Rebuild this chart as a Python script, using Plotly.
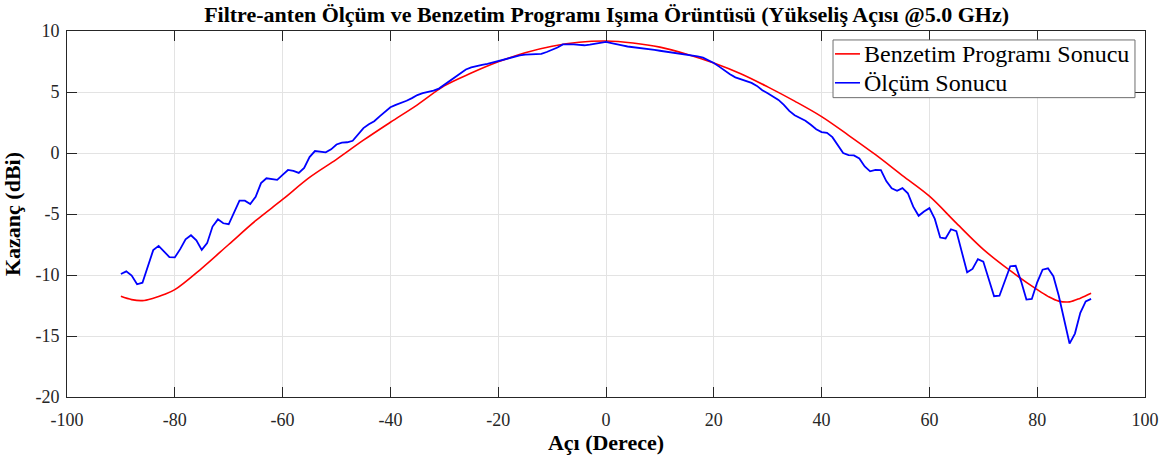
import plotly.graph_objects as go

# Simulated pattern (Benzetim Programı Sonucu)
sim_angle = [-90, -88, -86, -84, -82, -80, -75, -70, -65, -60, -55, -50, -45, -40,
             -35, -30, -25, -20, -15, -10, -5, 0, 5, 10, 15, 20, 25, 30, 35, 40,
             45, 50, 55, 60, 65, 70, 75, 80, 82, 84, 86, 88, 90]
sim_gain = [-11.75, -12.02, -12.1, -11.9, -11.6, -11.2, -9.45, -7.5, -5.55, -3.81,
            -2.0, -0.52, 1.05, 2.52, 3.95, 5.5, 6.55, 7.47, 8.22, 8.75, 9.08, 9.18,
            9.02, 8.68, 8.1, 7.38, 6.5, 5.42, 4.25, 2.98, 1.45, -0.14, -1.85, -3.54,
            -5.75, -7.9, -9.65, -11.2, -11.75, -12.14, -12.2, -11.9, -11.5]

# Measured pattern (Ölçüm Sonucu), 1 degree steps
meas_angle = list(range(-90, 91))
meas_gain = [
    -9.92, -9.7, -10.05, -10.76, -10.63, -9.24, -7.96, -7.61, -8.04, -8.53,   # -90..-81
    -8.56, -7.88, -7.07, -6.74, -7.15, -7.94, -7.39, -6.03, -5.44, -5.76,     # -80..-71
    -5.84, -4.84, -3.91, -3.91, -4.19, -3.59, -2.47, -2.07, -2.15, -2.2,      # -70..-61
    -1.79, -1.39, -1.47, -1.63, -1.22, -0.33, 0.16, 0.13, 0.05, 0.3,          # -60..-51
    0.7, 0.85, 0.88, 1.0, 1.55, 2.04, 2.35, 2.6, 3.0, 3.4,                    # -50..-41
    3.75, 3.95, 4.1, 4.28, 4.5, 4.75, 4.9, 5.0, 5.12, 5.28,                   # -40..-31
    5.6, 5.9, 6.23, 6.55, 6.85, 7.02, 7.14, 7.22, 7.3, 7.42,                  # -30..-21
    7.55, 7.67, 7.78, 7.9, 8.0, 8.07, 8.09, 8.09, 8.12, 8.28,                 # -20..-11
    8.45, 8.65, 8.9, 8.92, 8.91, 8.87, 8.83, 8.88, 8.97, 9.05,                # -10..-1
    9.1,                                                                      # 0
    9.0, 8.94, 8.82, 8.73, 8.68, 8.65, 8.6, 8.52, 8.45, 8.38,                 # 1..10
    8.32, 8.25, 8.19, 8.12, 8.06, 8.01, 7.92, 7.82, 7.62, 7.38,               # 11..20
    7.08, 6.75, 6.45, 6.2, 6.05, 5.92, 5.75, 5.5, 5.15, 4.9,                  # 21..30
    4.6, 4.35, 3.95, 3.45, 3.1, 2.9, 2.65, 2.31, 1.95, 1.72,                  # 31..40
    1.65, 1.3, 0.6, 0.0, -0.18, -0.2, -0.45, -1.1, -1.5, -1.38,               # 41..50
    -1.4, -2.3, -2.9, -3.1, -2.88, -3.3, -4.4, -5.15, -4.8, -4.52,            # 51..60
    -5.4, -6.93, -7.0, -6.25, -6.4, -8.1, -9.78, -9.5, -8.7, -8.9,            # 61..70
    -10.35, -11.74, -11.7, -10.5, -9.28, -9.24, -10.5, -12.01, -11.96, -10.6, # 71..80
    -9.57, -9.45, -10.1, -11.7, -13.75, -15.62, -14.8, -13.1, -12.17, -11.96, # 81..90
]

x_ticks = [-100, -80, -60, -40, -20, 0, 20, 40, 60, 80, 100]
y_ticks = [-20, -15, -10, -5, 0, 5, 10]

series_names = ["Benzetim Programı Sonucu", "Ölçüm Sonucu"]
series_colors = ["#FF0000", "#0000FF"]

serif = "Liberation Serif, Times New Roman, serif"

fig = go.Figure()
fig.add_trace(go.Scatter(
    x=sim_angle, y=sim_gain, mode="lines", line_shape="spline",
    name=series_names[0], showlegend=False,
    line=dict(color=series_colors[0], width=1.6),
))
fig.add_trace(go.Scatter(
    x=meas_angle, y=meas_gain, mode="lines",
    name=series_names[1], showlegend=False,
    line=dict(color=series_colors[1], width=1.8),
))

axis_common = dict(
    showline=True, linecolor="#262626", linewidth=1, mirror="allticks",
    ticks="inside", ticklen=10, tickcolor="#262626", tickwidth=1,
    showgrid=True, gridcolor="#E3E3E3", gridwidth=1, zeroline=False,
    tickfont=dict(family=serif, size=18, color="#262626"),
)

# Boxed legend in the upper right corner of the plot area (paper coordinates)
box_x0, box_x1 = 0.7106, 0.9907
box_y0, box_y1 = 0.8179, 0.9755
row_y = [0.9375, 0.8585]
line_x0, line_x1 = 0.7124, 0.7356
text_x = 0.7375

shapes = [dict(type="rect", xref="paper", yref="paper",
               x0=box_x0, x1=box_x1, y0=box_y0, y1=box_y1,
               line=dict(color="#6E6E6E", width=1), fillcolor="white", layer="above")]
annotations = []
for name, color, yy in zip(series_names, series_colors, row_y):
    shapes.append(dict(type="line", xref="paper", yref="paper",
                       x0=line_x0, x1=line_x1, y0=yy, y1=yy,
                       line=dict(color=color, width=1.6), layer="above"))
    annotations.append(dict(xref="paper", yref="paper", x=text_x, y=yy,
                            xanchor="left", yanchor="middle", showarrow=False,
                            text=name, font=dict(family=serif, size=24, color="black")))

fig.update_layout(
    width=1171, height=459,
    margin=dict(l=67, r=26, t=31, b=60),
    paper_bgcolor="white", plot_bgcolor="white",
    title=dict(
        text="<b>Filtre-anten Ölçüm ve Benzetim Programı Işıma Örüntüsü (Yükseliş Açısı @5.0 GHz)</b>",
        x=0.518, xanchor="center", y=0.968, yanchor="middle",
        font=dict(family=serif, size=22, color="black"),
    ),
    xaxis=dict(
        range=[-100, 100], tickvals=x_ticks, ticktext=[str(v) for v in x_ticks],
        ticklabelstandoff=6,
        title=dict(text="<b>Açı (Derece)</b>", standoff=2,
                   font=dict(family=serif, size=22, color="black")),
        **axis_common,
    ),
    yaxis=dict(
        range=[-20, 10], tickvals=y_ticks, ticktext=[str(v) for v in y_ticks],
        ticklabelstandoff=3,
        title=dict(text="<b>Kazanç (dBi)</b>", standoff=8,
                   font=dict(family=serif, size=22, color="black")),
        **axis_common,
    ),
    shapes=shapes,
    annotations=annotations,
    showlegend=False,
)

fig.write_html("out.html")
